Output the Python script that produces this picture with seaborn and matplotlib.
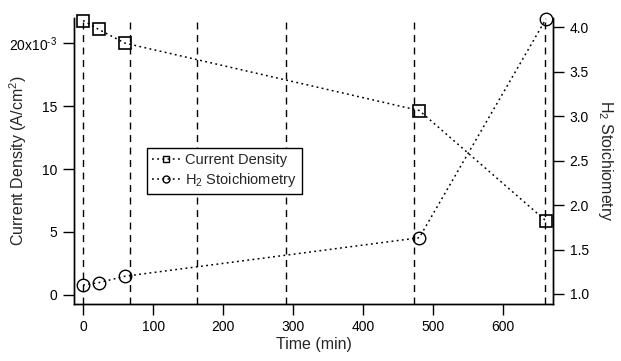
import matplotlib
matplotlib.use("Agg")
import matplotlib.pyplot as plt
import seaborn as sns
import pandas as pd
from matplotlib.lines import Line2D
from matplotlib.ticker import FixedLocator, FixedFormatter

sns.set_theme(style="ticks")
plt.rcParams['font.family'] = ['Liberation Sans', 'DejaVu Sans']
plt.rcParams['mathtext.fontset'] = 'custom'
plt.rcParams['mathtext.rm'] = 'Liberation Sans'
plt.rcParams['mathtext.it'] = 'Liberation Sans'
plt.rcParams['axes.unicode_minus'] = False

time_min = [0, 22, 60, 480, 661]
current_density = [21.8e-3, 21.1e-3, 20.0e-3, 14.65e-3, 5.88e-3]
h2_stoich = [1.10, 1.127, 1.20, 1.633, 4.095]
event_times = [0, 67, 162, 290, 473, 660]

x_ticks = [0, 100, 200, 300, 400, 500, 600]
y_left_ticks = [0, 5e-3, 10e-3, 15e-3, 20e-3]
y_left_labels = ["0", "5", "10", "15", "20x10$^{\\text{-}3}$"]
y_right_ticks = [1.0, 1.5, 2.0, 2.5, 3.0, 3.5, 4.0]

df = pd.DataFrame({"time": time_min, "cd": current_density, "h2": h2_stoich})

fig = plt.figure(figsize=(6.21, 3.61), dpi=100)
ax = fig.add_axes([74/621, 1 - 303.5/361, (553 - 74)/621, (303.5 - 18)/361])
ax2 = ax.twinx()

for t in event_times:
    ax.axvline(t, color="black", lw=1.0, ls=(0, (5, 4)), zorder=1)

sns.lineplot(data=df, x="time", y="cd", ax=ax, color="black", lw=1.1,
             ls=(0, (1.2, 2.2)), marker="s", markersize=8.5, markerfacecolor="none",
             markeredgecolor="black", markeredgewidth=1.2, clip_on=False, zorder=3)
sns.lineplot(data=df, x="time", y="h2", ax=ax2, color="black", lw=1.1,
             ls=(0, (1.2, 2.2)), marker="o", markersize=9, markerfacecolor="none",
             markeredgecolor="black", markeredgewidth=1.0, clip_on=False, zorder=3)

ax.set_xlim(-13, 671)
ax.set_ylim(-0.68e-3, 22.0e-3)
ax2.set_ylim(0.893, 4.105)

ax.xaxis.set_major_locator(FixedLocator(x_ticks))
ax.yaxis.set_major_locator(FixedLocator(y_left_ticks))
ax.yaxis.set_major_formatter(FixedFormatter(y_left_labels))
ax2.yaxis.set_major_locator(FixedLocator(y_right_ticks))
ax2.set_yticklabels([f"{v:.1f}" for v in y_right_ticks])

for a in (ax, ax2):
    for s in a.spines.values():
        s.set_visible(True)
        s.set_color("black")
        s.set_linewidth(1.0)
    a.tick_params(direction="out", length=8, width=1.0, color="black",
                  labelsize=10, labelcolor="black", pad=4)
ax.spines["top"].set_visible(False)
ax2.spines["top"].set_visible(False)

ax.set_xlabel("Time (min)", fontsize=11.5, labelpad=2)
ax.set_ylabel("Current Density (A/cm$^2$)", fontsize=11.5)
ax.yaxis.set_label_coords(-0.094, 0.5)
ax2.set_ylabel("H$_2$ Stoichiometry", fontsize=11.5, rotation=-90, labelpad=19)

handles = [
    Line2D([], [], color="black", lw=1.1, ls=(0, (1.2, 2.2)), marker="s",
           markersize=5, markerfacecolor="none", markeredgecolor="black", markeredgewidth=1.0),
    Line2D([], [], color="black", lw=1.1, ls=(0, (1.2, 2.2)), marker="o",
           markersize=5, markerfacecolor="none", markeredgecolor="black", markeredgewidth=1.0),
]
leg = ax2.legend(handles, ["Current Density", "H$_2$ Stoichiometry"],
                 loc="upper left", bbox_to_anchor=(0.152, 0.545), fontsize=10.5,
                 frameon=True, fancybox=False, shadow=False, handlelength=2.0,
                 handletextpad=0.3, borderpad=0.35, labelspacing=0.3, borderaxespad=0)
leg.get_frame().set_edgecolor("black")
leg.get_frame().set_linewidth(1.0)
leg.get_frame().set_alpha(1)

fig.savefig("out.png", dpi=100)
